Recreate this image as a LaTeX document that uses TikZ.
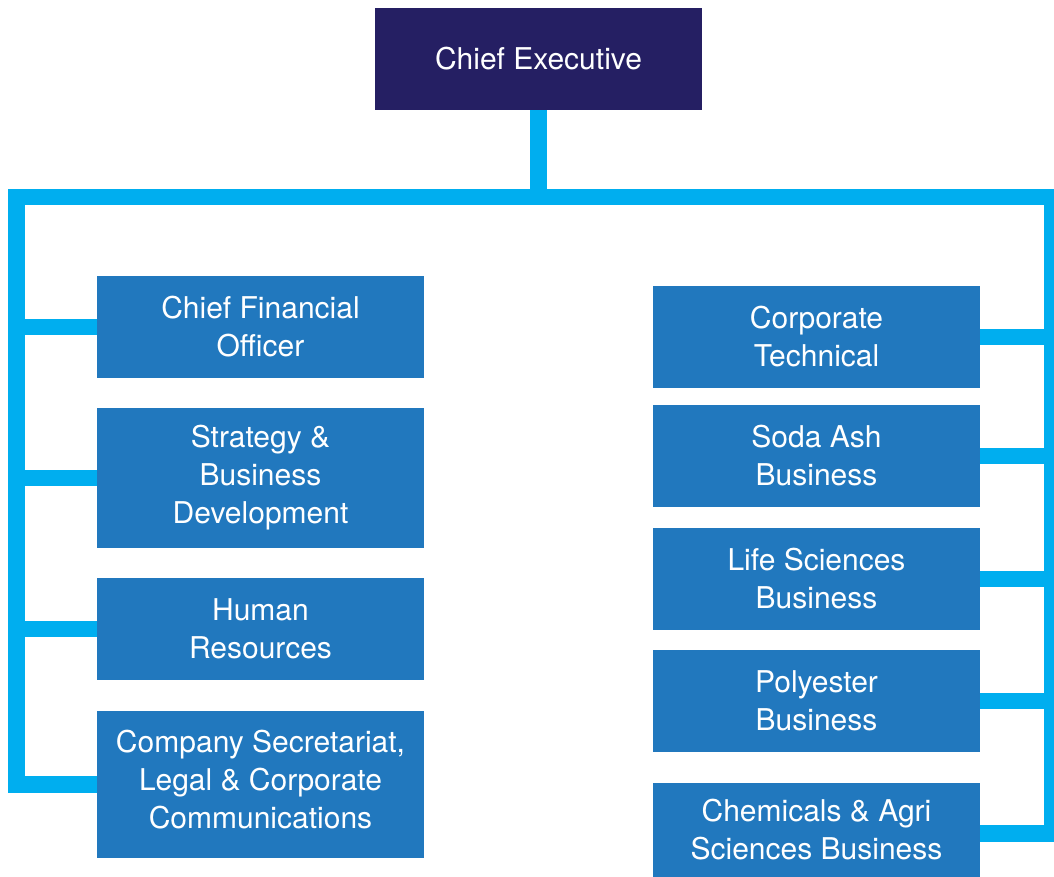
\documentclass[tikz,border=0pt]{standalone}
\usepackage{fontspec}
\setmainfont{TeX Gyre Heros}
\definecolor{navy}{HTML}{251F63}
\definecolor{unitblue}{HTML}{2178BE}
\definecolor{linkcyan}{HTML}{00AEEF}
\begin{document}
\begin{tikzpicture}[x=1pt,y=-1pt,
  unit/.style={fill=unitblue,text=white,minimum width=327pt,inner sep=0pt,
    align=center,font=\fontsize{30}{38}\selectfont},
  topunit/.style={unit,fill=navy},
  link/.style={draw=linkcyan,line width=16.5pt,line join=miter}]
\useasboundingbox (0,0) rectangle (1054,877);

% Chief executive
\node[topunit,minimum height=102pt] (ce) at (538.5,59) {Chief Executive};

% Left column
\node[unit,minimum height=102pt] (cfo) at (260.5,327) {Chief Financial\\Officer};
\node[unit,minimum height=140pt] (sbd) at (260.5,478) {Strategy \&\\Business\\Development};
\node[unit,minimum height=102pt] (hr)  at (260.5,629) {Human\\Resources};
\node[unit,minimum height=147pt,text depth=10pt] (cs) at (260.5,784.5) {Company Secretariat,\\Legal \& Corporate\\Communications};

% Right column
\node[unit,minimum height=102pt] (ct) at (816.5,337) {Corporate\\Technical};
\node[unit,minimum height=102pt] (sa) at (816.5,456) {Soda Ash\\Business};
\node[unit,minimum height=102pt] (ls) at (816.5,579) {Life Sciences\\Business};
\node[unit,minimum height=102pt] (pb) at (816.5,701) {Polyester\\Business};
\node[unit,minimum height=94pt]  (ca) at (816.5,830) {Chemicals \& Agri\\Sciences Business};

% Trunk positions
\coordinate (lt) at (16.5,197);
\coordinate (rt) at (1052,197);
\coordinate (cabr) at ([yshift=-3.5pt]ca.east);

% Connectors
\draw[link] (ce.south) -- (ce.south |- lt);
\draw[link] (cs.west) -- (cs.west -| lt) -- (lt) -- (rt) -- (cabr -| rt) -- (cabr);
\draw[link] (cfo.west) -- (cfo.west -| lt);
\draw[link] (sbd.west) -- (sbd.west -| lt);
\draw[link] (hr.west) -- (hr.west -| lt);
\draw[link] (ct.east) -- (ct.east -| rt);
\draw[link] (sa.east) -- (sa.east -| rt);
\draw[link] (ls.east) -- (ls.east -| rt);
\draw[link] (pb.east) -- (pb.east -| rt);
\end{tikzpicture}
\end{document}
